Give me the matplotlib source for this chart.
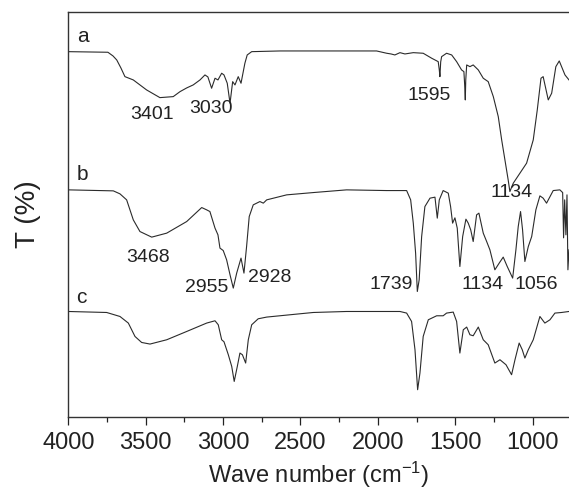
import matplotlib
matplotlib.use("Agg")
import matplotlib.pyplot as plt
from matplotlib.ticker import MultipleLocator

plt.rcParams['font.family'] = ['Liberation Sans', 'DejaVu Sans']
plt.rcParams['axes.unicode_minus'] = False
plt.rcParams['mathtext.default'] = 'regular'

# FTIR spectra (transmittance in arbitrary units, curves offset)
wn_a = [4000, 3744, 3711, 3687, 3660, 3634, 3580, 3494, 3408, 3322, 3278, 3235, 3193,
        3149, 3117, 3098, 3074, 3052, 3033, 3009, 2994, 2973, 2955, 2938, 2923, 2902,
        2884, 2859, 2844, 2815, 2632, 2008, 1943, 1915, 1890, 1857, 1825, 1771, 1707,
        1652, 1610, 1603, 1599, 1594, 1588, 1556, 1523, 1491, 1459, 1444, 1439, 1435,
        1432, 1426, 1405, 1384, 1351, 1319, 1287, 1254, 1222, 1200, 1179, 1158, 1147,
        1125, 1082, 1039, 996, 970, 946, 932, 899, 877, 850, 828, 791, 765]
t_a = [365.3, 364.7, 361, 357, 349, 340.3, 337, 327, 319.3, 320.3, 325.3, 329, 332,
       337, 342, 340, 328.7, 338.7, 337, 343.7, 342, 333.7, 313.7, 335.3, 332, 340.3,
       333.7, 353.7, 362, 365.3, 366, 366, 363.7, 363, 362, 364.3, 363, 364.3, 363.7,
       358.7, 355.3, 347, 340.3, 355, 360.3, 363.7, 362, 355.3, 347, 345.3, 332, 317,
       337, 352, 350.3, 352, 347, 338.7, 335.3, 320.3, 300.3, 277, 257, 237, 225.3,
       233.7, 243.7, 253.7, 277, 307, 338.7, 340.3, 317, 323.7, 350.3, 356, 342, 337]

wn_b = [4000, 3709, 3666, 3623, 3580, 3537, 3461, 3364, 3235, 3138, 3106, 3085, 3052,
        3033, 3020, 2999, 2977, 2955, 2934, 2912, 2884, 2865, 2848, 2831, 2805, 2762,
        2740, 2718, 2589, 2417, 2202, 1943, 1814, 1788, 1771, 1756, 1745, 1733, 1717,
        1696, 1663, 1631, 1616, 1603, 1578, 1545, 1530, 1517, 1502, 1487, 1470, 1452,
        1431, 1416, 1400, 1384, 1362, 1347, 1319, 1297, 1276, 1244, 1216, 1190, 1164,
        1129, 1108, 1093, 1078, 1065, 1050, 1028, 1006, 979, 953, 932, 910, 867, 824,
        806, 800, 793, 785, 778, 772, 765]
t_b = [227, 226, 223, 217, 197, 185.3, 179.7, 183.7, 195.3, 209.3, 207, 205.3, 188.7,
       182, 168.7, 166.3, 157, 142, 128.7, 143.7, 158.7, 143.7, 170.3, 200.3, 212, 215.3,
       213.7, 217, 222, 224.3, 227, 226.3, 226.3, 217, 193.7, 163.7, 125.3, 137, 180.3,
       210.3, 218.7, 219.7, 198.7, 217, 226.3, 223.7, 210.3, 193.7, 199, 188.7, 150.3,
       180.3, 197.7, 193.7, 187, 175.3, 202, 203.7, 183.7, 175.3, 167, 147, 153.7, 159.7,
       150.3, 138.7, 167, 190.3, 205.3, 187, 155.3, 170.3, 180.3, 207, 221, 218.7, 213.7,
       226.3, 227, 224.3, 179, 217, 182, 222, 147, 167]

wn_c = [4000, 3752, 3666, 3612, 3569, 3526, 3472, 3364, 3235, 3106, 3052, 3031, 3009,
        2994, 2966, 2944, 2928, 2908, 2891, 2875, 2854, 2837, 2815, 2773, 2718, 2503,
        2417, 2202, 1857, 1814, 1782, 1760, 1743, 1728, 1707, 1674, 1620, 1578, 1556,
        1513, 1491, 1470, 1448, 1426, 1405, 1384, 1351, 1319, 1287, 1244, 1211, 1172,
        1136, 1114, 1087, 1067, 1050, 1028, 996, 953, 921, 888, 856, 813, 765]
t_c = [105.3, 104.3, 100.3, 93.7, 80.3, 74.3, 72.7, 77, 85.3, 93.7, 96, 92, 77,
       75, 62, 50.3, 35.3, 50.3, 63.7, 62, 53.7, 77, 92, 98, 99.7, 103,
       104.3, 105.3, 105.3, 103.7, 95.3, 67, 27, 43.7, 80.3, 97, 101, 101, 103.7,
       104.7, 95.3, 63.7, 87, 89.7, 82, 81, 89.7, 77, 72, 53.7, 57, 52,
       42, 57, 73.7, 67, 58.7, 67, 77, 100.3, 93.7, 97, 103.7, 104.3, 105.3]

# peak labels: (text, wavenumber, T)
peak_labels = [("3401", 3461, 302), ("3030", 3078, 308), ("1595", 1670, 321),
               ("1134", 1136, 224),
               ("3468", 3483, 159), ("2955", 3106, 129), ("2928", 2697, 139),
               ("1739", 1911, 132), ("1134", 1323, 132), ("1056", 979, 132)]
curve_labels = [("a", 3907, 380), ("b", 3907, 242), ("c", 3913, 119)]

fig = plt.figure(figsize=(5.69, 4.91), dpi=100)
ax = fig.add_axes([0.120, 0.1513, 0.88, 0.8243])

line_col = '#2b2b2b'
for wn, t in [(wn_a, t_a), (wn_b, t_b), (wn_c, t_c)]:
    ax.plot(wn, t, color=line_col, linewidth=0.8)

for txt, x, y in peak_labels:
    ax.text(x, y, txt, fontsize=14, ha='center', va='center', color='#222222')
for txt, x, y in curve_labels:
    ax.text(x, y, txt, fontsize=15, ha='center', va='center', color='#222222')

ax.set_xlim(4000, 765)
ax.set_ylim(0, 405)
ax.xaxis.set_major_locator(MultipleLocator(500))
ax.xaxis.set_minor_locator(MultipleLocator(250))
ax.tick_params(axis='x', which='major', length=6, width=0.9, labelsize=17, pad=5,
               colors='#222222')
ax.tick_params(axis='x', which='minor', length=3.5, width=0.9, colors='#222222')
ax.set_yticks([])
ax.spines['right'].set_visible(False)
for s in ['left', 'top', 'bottom']:
    ax.spines[s].set_color('#333333')
    ax.spines[s].set_linewidth(1.0)

ax.set_xlabel("Wave number (cm$^{-1}$)", fontsize=17, labelpad=4, color='#222222')
ax.set_ylabel("T (%)", fontsize=20, labelpad=20, color='#222222')

fig.savefig("out.png", dpi=100)
